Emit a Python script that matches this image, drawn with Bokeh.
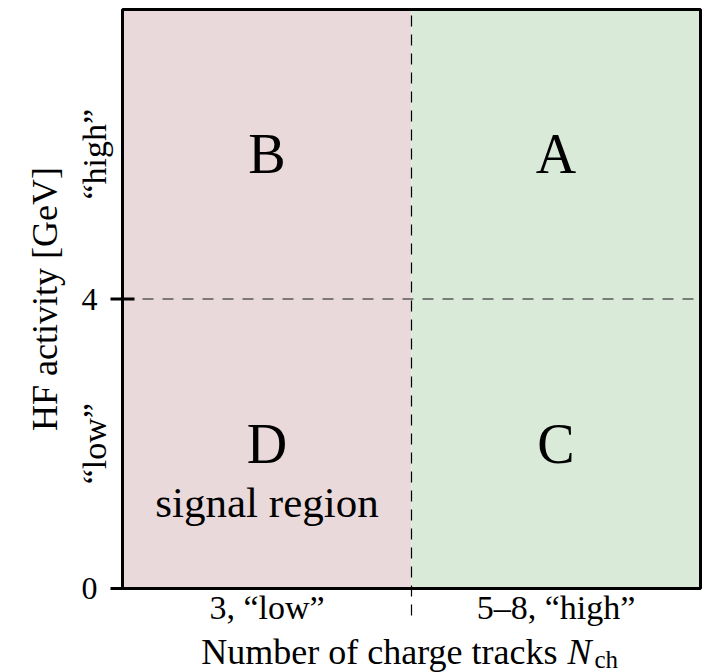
from math import pi

from bokeh.plotting import figure
from bokeh.models import ColumnDataSource, Range1d
from bokeh.core.properties import value
from bokeh.embed import file_html
from bokeh.resources import INLINE

# ABCD method: track multiplicity bins (x) against HF activity (y)
nch_labels = ["3, “low”", "5–8, “high”"]
nch_edges = [0, 1, 2]
hf_labels = ["“low”", "“high”"]
hf_ticks = [0, 4]
hf_tick_labels = ["0", "4"]
hf_cut = 4
hf_top = 8

region_letters = ["D", "C", "B", "A"]
region_col = [0, 1, 0, 1]
region_row = [0, 0, 1, 1]
column_fill = ["#ead9da", "#d9ead8"]
signal_text = "signal region"

x_title = "Number of charge tracks"
x_symbol = "N"
x_subscript = "ch"
y_title = "HF activity [GeV]"

FONT = value("Liberation Serif")

# canvas and plotting-box geometry (pixels)
W, H = 705, 672
BOX_L, BOX_R, BOX_T, BOX_B = 122, 700, 9, 588
px_x = (BOX_R - BOX_L) / (nch_edges[-1] - nch_edges[0])
px_y = (BOX_B - BOX_T) / hf_top


def dx(px):
    return nch_edges[0] + (px - BOX_L) / px_x


def dy(py):
    return (BOX_B - py) / px_y


# the whole canvas is the drawing area; the boxed region spans the data ranges
p = figure(width=W, height=H,
           x_range=Range1d(dx(0), dx(W)), y_range=Range1d(dy(H), dy(0)),
           x_axis_location=None, y_axis_location=None,
           output_backend="svg", toolbar_location=None, min_border=0)
p.background_fill_color = "white"
p.border_fill_color = "white"
p.outline_line_color = None
p.xgrid.visible = False
p.ygrid.visible = False

# shaded columns
bg = ColumnDataSource(dict(left=nch_edges[:-1], right=nch_edges[1:], color=column_fill))
p.quad(left="left", right="right", bottom=0, top=hf_top, fill_color="color",
       line_color=None, source=bg)

# cut lines
p.segment(x0=[nch_edges[1]], y0=[dy(615)], x1=[nch_edges[1]], y1=[hf_top],
          line_color="black", line_width=1.2, line_dash="11 8")
p.segment(x0=[nch_edges[0]], y0=[hf_cut], x1=[nch_edges[-1]], y1=[hf_cut],
          line_color="#5a5a5a", line_width=1.5, line_dash="11 9")

# box
p.quad(left=nch_edges[0], right=nch_edges[-1], bottom=0, top=hf_top,
       fill_color=None, line_color="black", line_width=3)

# y ticks: outward at 0, both ways at the cut
tick_len = 12
p.segment(x0=[dx(BOX_L - tick_len)] * 2, y0=hf_ticks,
          x1=[dx(BOX_L), dx(BOX_L + tick_len)], y1=hf_ticks,
          line_color="black", line_width=3)
p.text(x=[dx(BOX_L - tick_len - 13)] * 2, y=hf_ticks, text=hf_tick_labels,
       text_font=FONT, text_font_size="32px", text_align="right",
       text_baseline="middle", text_color="black")

# region letters
row_mid = [(0 + hf_cut) / 2, (hf_cut + hf_top) / 2]
letters = ColumnDataSource(dict(
    x=[nch_edges[c] + 0.5 for c in region_col],
    y=[row_mid[r] for r in region_row],
    text=region_letters,
))
p.text(x="x", y="y", text="text", source=letters, text_font=FONT,
       text_font_size="56px", text_align="center", text_baseline="middle",
       text_color="black")

p.text(x=[nch_edges[0] + 0.5], y=[row_mid[0]], text=[signal_text], text_font=FONT,
       text_font_size="43px", text_align="center", text_baseline="middle",
       y_offset=59, text_color="black")

# y-axis texts (rotated)
p.text(x=[dx(44)], y=[hf_cut], text=[y_title], angle=pi / 2, text_font=FONT,
       text_font_size="36px", text_align="center", text_baseline="middle",
       text_color="black")
p.text(x=[dx(94)] * 2, y=row_mid, text=hf_labels, angle=pi / 2, text_font=FONT,
       text_font_size="34px", text_align="center", text_baseline="middle",
       text_color="black")

# x-axis texts
col_mid = [(lo + hi) / 2 for lo, hi in zip(nch_edges[:-1], nch_edges[1:])]
p.text(x=col_mid, y=[dy(607)] * 2, text=nch_labels, text_font=FONT,
       text_font_size="34px", text_align="center", text_baseline="middle",
       text_color="black")

p.text(x=[dx(557)], y=[dy(651)], text=[x_title], text_font=FONT,
       text_font_size="36px", text_align="right", text_baseline="middle",
       text_color="black")
p.text(x=[dx(567)], y=[dy(651)], text=[x_symbol], text_font=FONT,
       text_font_style="italic", text_font_size="36px", text_align="left",
       text_baseline="middle", text_color="black")
p.text(x=[dx(594)], y=[dy(659)], text=[x_subscript], text_font=FONT,
       text_font_size="25px", text_align="left", text_baseline="middle",
       text_color="black")

open("out.html", "w").write(file_html(p, INLINE))
